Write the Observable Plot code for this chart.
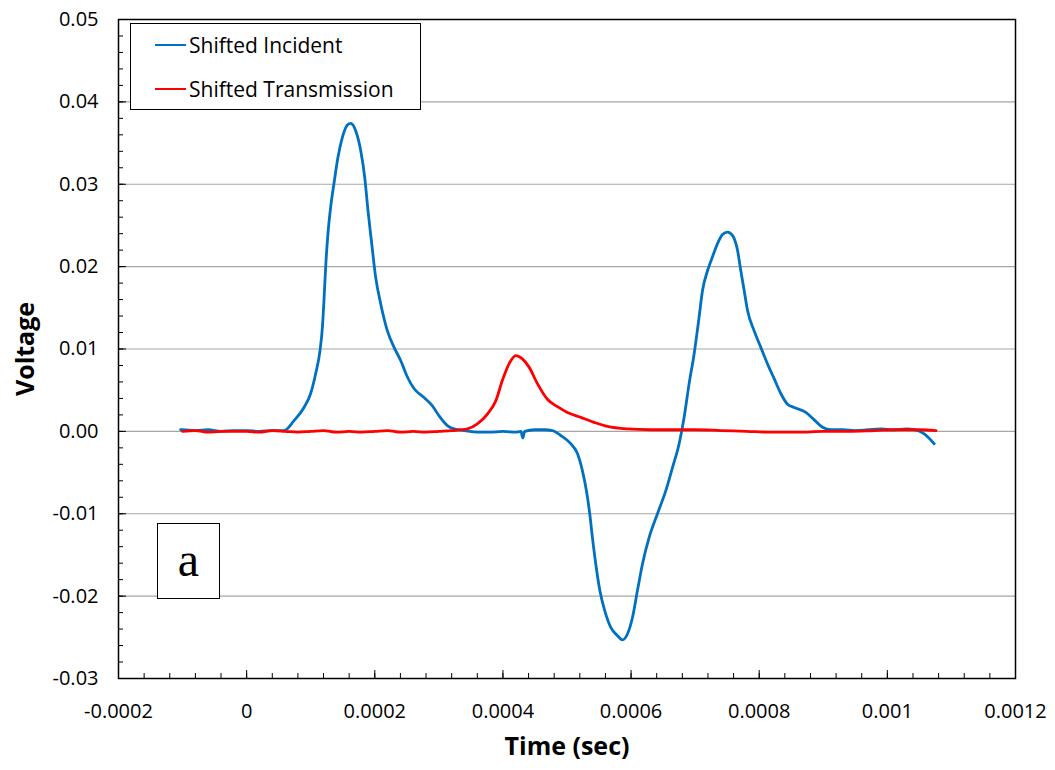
<!DOCTYPE html>
<html>
<head>
<meta charset="utf-8">
<script src="https://cdn.jsdelivr.net/npm/d3@7"></script>
<script src="https://cdn.jsdelivr.net/npm/@observablehq/plot@0.6"></script>
<style>
  html, body { margin: 0; padding: 0; background: #fff; }
  #wrap { position: relative; width: 1055px; height: 770px; font-family: "Open Sans", sans-serif; }
  #legend { position: absolute; left: 130px; top: 23px; width: 289px; height: 85px; border: 1.5px solid #000; background: #fff; box-sizing: content-box; }
  .item { position: absolute; left: 24px; height: 30px; display: flex; align-items: center; font-size: 21px; color: #000; white-space: nowrap; }
  .swatch { width: 31px; height: 0; border-top: 2.8px solid; margin-right: 3px; }
  #tag { position: absolute; left: 157px; top: 523px; width: 63px; height: 76px; border: 1.5px solid #000; background: #fff; font-family: "Liberation Serif", serif; font-size: 48px; display: flex; align-items: center; justify-content: center; line-height: 1; padding-bottom: 2px; box-sizing: border-box; }
</style>
</head>
<body>
<div id="wrap"></div>
<script>
// ---- data (time in units of 1e-4 s, voltage) ----
const seriesNames = ["Shifted Incident", "Shifted Transmission"];
const seriesColors = ["#0070C0", "#FF0000"];

const incidentT = [-1.03,-0.8,-0.6,-0.4,-0.2,0.0,0.2,0.4,0.583,0.739,0.895,0.999,1.077,1.145,1.182,1.207,1.233,1.269,1.311,1.363,1.426,1.494,1.572,1.624,1.702,1.780,1.842,1.894,1.946,2.014,2.092,2.197,2.301,2.404,2.509,2.612,2.768,2.899,3.002,3.133,3.237,3.4,3.6,3.8,4.0,4.2,4.28,4.31,4.34,4.5,4.65,4.773,4.902,5.058,5.163,5.241,5.303,5.355,5.397,5.449,5.512,5.590,5.683,5.788,5.866,5.944,6.022,6.100,6.178,6.281,6.412,6.542,6.646,6.750,6.828,6.906,6.984,7.062,7.115,7.193,7.271,7.349,7.427,7.505,7.583,7.661,7.713,7.765,7.817,7.921,8.025,8.129,8.233,8.337,8.441,8.545,8.728,8.858,8.988,9.118,9.3,9.5,9.7,9.9,10.1,10.3,10.42,10.575,10.731];
const incidentV = [0.0002,0.0001,0.0002,0.0000,0.0001,0.0001,0.0000,0.0001,0.0001,0.0013,0.0029,0.0046,0.0070,0.0098,0.0126,0.0159,0.0199,0.0240,0.0272,0.0301,0.0333,0.0357,0.0372,0.0374,0.0365,0.0341,0.0309,0.0268,0.0232,0.0187,0.0155,0.0122,0.0102,0.0086,0.0066,0.0052,0.0041,0.0031,0.0019,0.0007,0.0003,0.0001,-0.0001,-0.0001,0.0000,-0.0001,0.0000,-0.0008,0.0000,0.0002,0.0002,0.0001,-0.0005,-0.0015,-0.0027,-0.0048,-0.0072,-0.0100,-0.0129,-0.0161,-0.0193,-0.0218,-0.0238,-0.0248,-0.0253,-0.0246,-0.0226,-0.0193,-0.0161,-0.0129,-0.0100,-0.0072,-0.0044,-0.0015,0.0017,0.0058,0.0094,0.0139,0.0171,0.0195,0.0212,0.0228,0.0239,0.0242,0.0238,0.0220,0.0195,0.0171,0.0147,0.0122,0.0102,0.0082,0.0064,0.0046,0.0033,0.0029,0.0023,0.0014,0.0005,0.0002,0.0002,0.0001,0.0002,0.0003,0.0002,0.0003,0.0002,-0.0003,-0.0015];

const transT = [-1.0,-0.8,-0.6,-0.4,-0.2,0.0,0.2,0.4,0.6,0.8,1.0,1.2,1.4,1.6,1.8,2.0,2.2,2.4,2.6,2.8,3.0,3.2,3.445,3.601,3.758,3.888,3.992,4.095,4.200,4.304,4.408,4.538,4.694,4.851,5.007,5.215,5.423,5.631,5.944,6.307,6.6,7.0,7.4,7.8,8.2,8.6,9.0,9.4,9.8,10.2,10.5,10.76];
const transV = [0.0000,0.0001,-0.0001,0.0000,0.0000,0.0000,-0.0001,0.0001,0.0000,-0.0001,0.0000,0.0001,-0.0001,0.0000,-0.0001,0.0000,0.0001,-0.0001,0.0000,-0.0001,0.0000,0.0001,0.0003,0.0009,0.0021,0.0037,0.0062,0.0082,0.0092,0.0088,0.0078,0.0058,0.0039,0.0030,0.0023,0.0017,0.0011,0.0006,0.0003,0.0002,0.0002,0.0002,0.0001,0.0000,-0.0001,-0.0001,0.0000,0.0000,0.0001,0.0002,0.0002,0.0001];

// ---- ticks ----
const xTicks = [-0.0002, 0, 0.0002, 0.0004, 0.0006, 0.0008, 0.001, 0.0012];
const xTickLabels = ["-0.0002", "0", "0.0002", "0.0004", "0.0006", "0.0008", "0.001", "0.0012"];
const yTicks = [-0.03, -0.02, -0.01, 0, 0.01, 0.02, 0.03, 0.04, 0.05];
const yTickLabels = ["-0.03", "-0.02", "-0.01", "0.00", "0.01", "0.02", "0.03", "0.04", "0.05"];
const xLabel = "Time (sec)";
const yLabel = "Voltage";
const tagText = "a";

const xMinor = d3.range(0, 36).map(i => -0.0002 + i * 0.00004);
const yMinor = d3.range(0, 41).map(i => -0.03 + i * 0.002);

const incident = incidentT.map((t, i) => ({t: t * 1e-4, v: incidentV[i]}));
const trans = transT.map((t, i) => ({t: t * 1e-4, v: transV[i]}));

const chart = Plot.plot({
  width: 1055,
  height: 770,
  marginLeft: 118,
  marginRight: 40,
  marginTop: 19,
  marginBottom: 92,
  x: {domain: [-0.0002, 0.0012], label: null},
  y: {domain: [-0.03, 0.05], label: null},
  style: {fontFamily: "Open Sans, sans-serif", fontSize: "20px", color: "#000", background: "#fff"},
  marks: [
    Plot.ruleY(yTicks, {stroke: "#a6a6a6", strokeWidth: 1.2}),
    Plot.line(incident, {x: "t", y: "v", stroke: seriesColors[0], strokeWidth: 2.8, curve: "monotone-x"}),
    Plot.line(trans, {x: "t", y: "v", stroke: seriesColors[1], strokeWidth: 2.8, curve: "monotone-x"}),
    Plot.frame({stroke: "#000", strokeWidth: 1.5}),
    Plot.axisX(xMinor, {tickSize: -5, text: null, stroke: "#000", label: null}),
    Plot.axisX(xTicks, {tickSize: -8, text: null, stroke: "#000", label: null}),
    Plot.axisX(xTicks, {tickSize: 0, tickPadding: 25, tickFormat: d => xTickLabels[xTicks.indexOf(d)], label: null, fontSize: 20}),
    Plot.axisY(yMinor, {tickSize: -5, text: null, stroke: "#000", label: null}),
    Plot.axisY(yTicks, {tickSize: -8, text: null, stroke: "#000", label: null}),
    Plot.axisY(yTicks, {tickSize: 0, tickPadding: 20, tickFormat: d => yTickLabels[yTicks.indexOf(d)], label: null, fontSize: 20}),
    Plot.text([xLabel], {frameAnchor: "bottom", dy: 68, lineAnchor: "middle", textAnchor: "middle", fontWeight: "bold", fontSize: 25}),
    Plot.text([yLabel], {frameAnchor: "left", dx: -93, rotate: -90, textAnchor: "middle", lineAnchor: "middle", fontWeight: "bold", fontSize: 25})
  ]
});

const wrap = document.getElementById("wrap");
wrap.appendChild(chart);

const legend = document.createElement("div");
legend.id = "legend";
seriesNames.forEach((name, i) => {
  const item = document.createElement("div");
  item.className = "item";
  item.style.top = (6 + i * 44) + "px";
  const sw = document.createElement("span");
  sw.className = "swatch";
  sw.style.borderTopColor = seriesColors[i];
  const label = document.createElement("span");
  label.textContent = name;
  item.appendChild(sw);
  item.appendChild(label);
  legend.appendChild(item);
});
wrap.appendChild(legend);

const tag = document.createElement("div");
tag.id = "tag";
tag.textContent = tagText;
wrap.appendChild(tag);
</script>
</body>
</html>
